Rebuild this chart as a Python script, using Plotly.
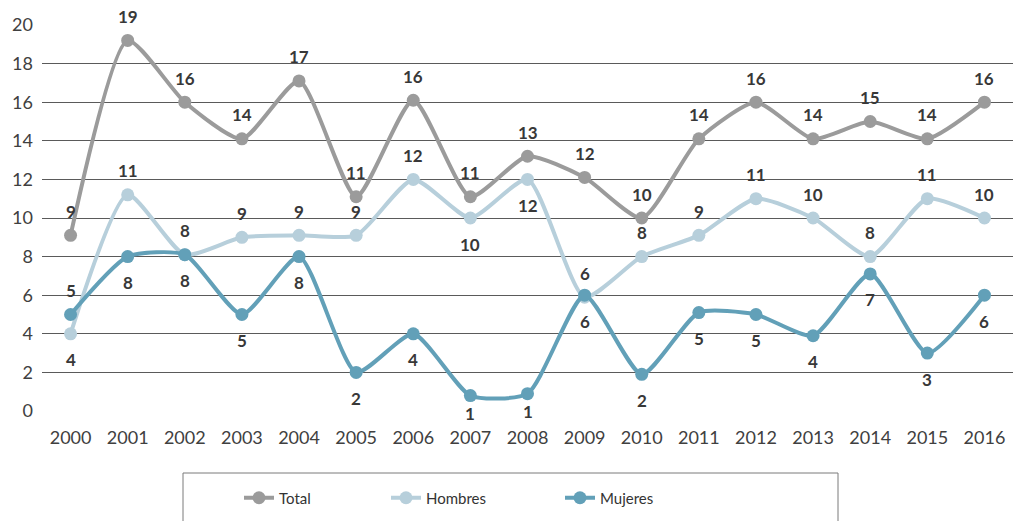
import plotly.graph_objects as go

# Years on the x axis
years = list(range(2000, 2017))

# Series values
total = [9.1, 19.2, 16.0, 14.1, 17.1, 11.1, 16.1, 11.1, 13.2, 12.1, 10.0, 14.1, 16.0, 14.1, 15.0, 14.1, 16.0]
hombres = [4.0, 11.2, 8.1, 9.0, 9.1, 9.1, 12.0, 10.0, 12.0, 5.9, 8.0, 9.1, 11.0, 10.0, 8.0, 11.0, 10.0]
mujeres = [5.0, 8.0, 8.1, 5.0, 8.0, 2.0, 4.0, 0.8, 0.9, 6.0, 1.9, 5.1, 5.0, 3.9, 7.1, 3.0, 6.0]

# Label placement per point: +1 above the marker, -1 below
total_side = [1] * 17
hombres_side = [-1, 1, 1, 1, 1, 1, 1, -1, -1, 1, 1, 1, 1, 1, 1, 1, 1]
mujeres_side = [1] + [-1] * 16

y_ticks = list(range(0, 21, 2))

C_TOTAL = "#9b9b9b"
C_HOMBRES = "#b7cfdb"
C_MUJERES = "#62a0b8"

series = [
    ("Total", total, total_side, C_TOTAL, "legend"),
    ("Hombres", hombres, hombres_side, C_HOMBRES, "legend2"),
    ("Mujeres", mujeres, mujeres_side, C_MUJERES, "legend3"),
]

fig = go.Figure()
annotations = []
for name, vals, sides, color, leg in series:
    fig.add_trace(go.Scatter(
        x=years, y=vals, name=name, mode="lines+markers",
        line=dict(color=color, width=4, shape="spline", smoothing=0.6),
        marker=dict(color=color, size=13),
        legend=leg,
    ))
    for yr, v, s in zip(years, vals, sides):
        if s > 0:
            shift = 24
        else:
            # labels close to the baseline sit tighter so they clear the year ticks
            shift = -18 if v < 1.5 else -26
        annotations.append(dict(
            x=yr, y=v, xref="x", yref="y", text=f"<b>{v:.0f}</b>",
            showarrow=False, yshift=shift,
            font=dict(family="Lato", size=17, color="#383838"),
        ))

L, R, T, B = 42, 1, 25, 110
W, H = 1014, 521
pw, ph = W - L - R, H - T - B

def px_x(p):
    return (p - L) / pw

def px_y(p):
    return (H - B - p) / ph

legend_common = dict(
    orientation="h", yanchor="middle", xanchor="left",
    y=px_y(498), font=dict(family="Lato", size=15, color="#333333"),
    bgcolor="rgba(0,0,0,0)", borderwidth=0, itemwidth=30,
)

fig.update_layout(
    width=W, height=H,
    margin=dict(l=L, r=R, t=T, b=B),
    plot_bgcolor="white", paper_bgcolor="white",
    showlegend=True,
    annotations=annotations,
    xaxis=dict(
        range=[1999.5, 2016.5], tickvals=years, tickformat="d",
        showgrid=False, zeroline=False, showline=False, ticks="",
        ticklabelstandoff=14,
        tickfont=dict(family="Lato", size=18, color="#404040"),
    ),
    yaxis=dict(
        range=[0, 20], tickvals=y_ticks, showgrid=True, gridcolor="#5a5a5a",
        gridwidth=1, zeroline=False, showline=False, ticks="",
        ticklabelstandoff=8,
        tickfont=dict(family="Lato", size=18, color="#404040"),
    ),
    legend=dict(legend_common, x=px_x(239)),
    legend2=dict(legend_common, x=px_x(386)),
    legend3=dict(legend_common, x=px_x(560)),
    shapes=[dict(
        type="rect", xref="paper", yref="paper",
        x0=px_x(183), x1=px_x(838), y0=px_y(473), y1=px_y(540),
        line=dict(color="#7a7a7a", width=1), fillcolor="rgba(0,0,0,0)",
        layer="below",
    )],
)

fig.write_html("out.html")
